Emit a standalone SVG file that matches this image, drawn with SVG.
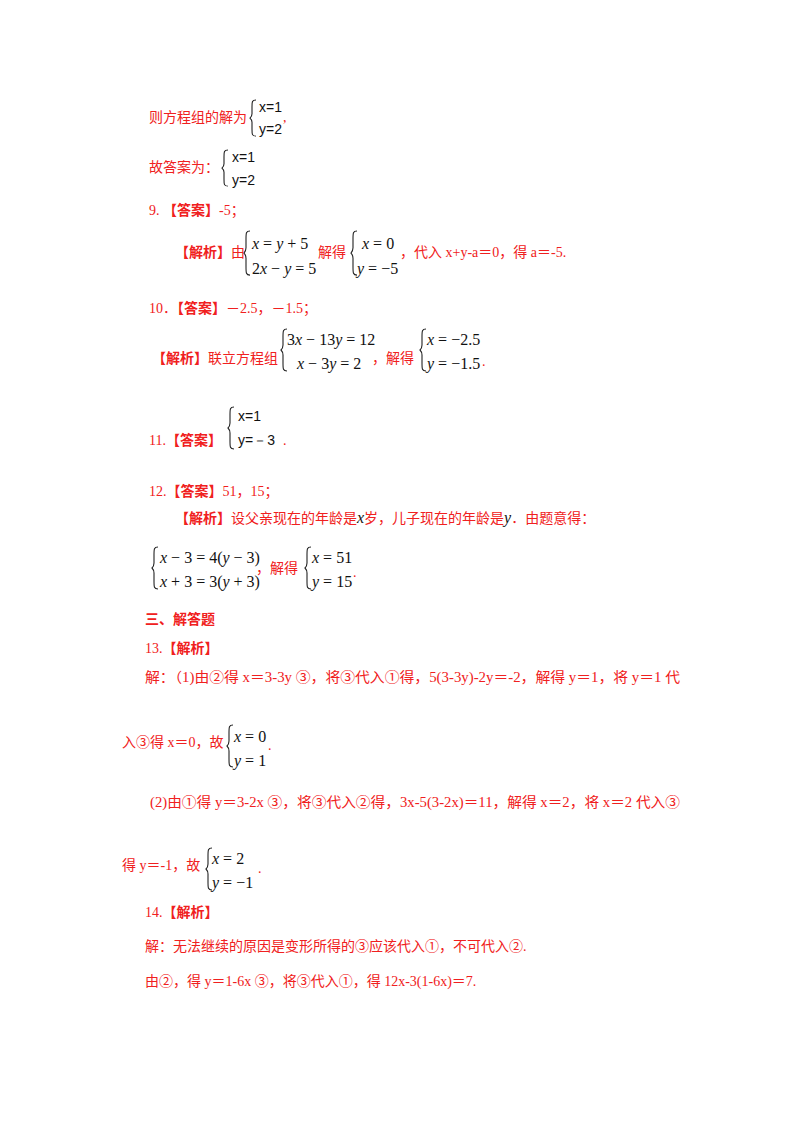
<svg xmlns="http://www.w3.org/2000/svg" width="800" height="1132" viewBox="0 0 800 1132">
<style>
.r{fill:#f02020;font-family:"Liberation Serif","Noto Sans CJK SC",serif;font-size:14px}
.b{font-weight:bold}
.m{fill:#111;font-family:"Liberation Serif",serif;font-size:16px}
.s{fill:#111;font-family:"Liberation Sans",sans-serif;font-size:14px}
.i{font-style:italic}
.br{fill:none;stroke:#222;stroke-width:1.1}
</style>
<rect width="800" height="1132" fill="#fff"/>
<defs><path id="brc" d="M6,0 C2,0 2,2 2,8 L2,16 C2,19 1,20 0,21 C1,22 2,23 2,26 L2,34 C2,40 2,42 6,42"/></defs>

<text class="r" x="149" y="122">则方程组的解为</text>
<use href="#brc" class="br" transform="translate(250,100) scale(1,0.86)"/>
<text class="s" x="259" y="112">x=1</text><text class="s" x="259" y="134">y=2</text><text class="r" x="283" y="122">,</text>

<text class="r" x="149" y="172">故答案为：</text>
<use href="#brc" class="br" transform="translate(222,150) scale(1,0.86)"/>
<text class="s" x="232" y="162">x=1</text><text class="s" x="232" y="185">y=2</text>

<text class="r" x="149" y="215">9.  <tspan class="b">【答案】</tspan>-5；</text>

<text class="r" x="175" y="257"><tspan class="b">【解析】</tspan>由</text>
<use href="#brc" class="br" transform="translate(244,231) scale(1,1.05)"/>
<text class="m" x="252" y="249"><tspan class="i">x</tspan> = <tspan class="i">y</tspan> + 5</text>
<text class="m" x="252" y="274">2<tspan class="i">x</tspan> − <tspan class="i">y</tspan> = 5</text>
<text class="r" x="318" y="257">解得</text>
<use href="#brc" class="br" transform="translate(351,231) scale(1,1.05)"/>
<text class="m" x="362" y="249"><tspan class="i">x</tspan> = 0</text>
<text class="m" x="357" y="274"><tspan class="i">y</tspan> = −5</text>
<text class="r" x="400" y="257">，代入 x+y-a＝0，得 a＝-5.</text>

<text class="r" x="149" y="313">10．<tspan class="b">【答案】</tspan>－2.5，－1.5；</text>
<text class="r" x="152" y="363"><tspan class="b">【解析】</tspan>联立方程组</text>
<use href="#brc" class="br" transform="translate(281,329) scale(1,1.0)"/>
<text class="m" x="287" y="345">3<tspan class="i">x</tspan> − 13<tspan class="i">y</tspan> = 12</text>
<text class="m" x="297" y="369"><tspan class="i">x</tspan> − 3<tspan class="i">y</tspan> = 2</text>
<text class="r" x="372" y="363">，解得</text>
<use href="#brc" class="br" transform="translate(420,329) scale(1,1.0)"/>
<text class="m" x="427" y="345"><tspan class="i">x</tspan> = −2.5</text>
<text class="m" x="427" y="369"><tspan class="i">y</tspan> = −1.5</text>
<text class="r" x="482" y="366">.</text>

<text class="r" x="149" y="445">11.<tspan class="b">【答案】</tspan></text>
<use href="#brc" class="br" transform="translate(228,407) scale(1,1.0)"/>
<text class="s" x="238" y="421">x=1</text><text class="s" x="238" y="445">y=－3</text><text class="r" x="283" y="445">.</text>

<text class="r" x="149" y="496">12.<tspan class="b">【答案】</tspan>51，15；</text>
<text class="r" x="175" y="523"><tspan class="b">【解析】</tspan>设父亲现在的年龄是<tspan class="m i" font-size="17">x</tspan>岁，儿子现在的年龄是<tspan class="m i" font-size="17">y</tspan>．由题意得：</text>
<use href="#brc" class="br" transform="translate(152,547) scale(1,1.0)"/>
<text class="m" x="160" y="563"><tspan class="i">x</tspan> − 3 = 4(<tspan class="i">y</tspan> − 3)</text>
<text class="m" x="160" y="587"><tspan class="i">x</tspan> + 3 = 3(<tspan class="i">y</tspan> + 3)</text>
<text class="r" x="256" y="573">，解得</text>
<use href="#brc" class="br" transform="translate(305,547) scale(1,1.0)"/>
<text class="m" x="312" y="563"><tspan class="i">x</tspan> = 51</text>
<text class="m" x="312" y="587"><tspan class="i">y</tspan> = 15</text>
<text class="r" x="353" y="577">.</text>

<text class="r b" x="145" y="624">三、解答题</text>
<text class="r" x="145" y="653">13.<tspan class="b">【解析】</tspan></text>
<text class="r" x="145" y="682" textLength="535" lengthAdjust="spacingAndGlyphs">解：（1)由②得 x＝3-3y ③，将③代入①得，5(3-3y)-2y＝-2，解得 y＝1，将 y＝1 代</text>
<text class="r" x="122" y="747">入③得 x＝0，故</text>
<use href="#brc" class="br" transform="translate(227,725) scale(1,1.0)"/>
<text class="m" x="234" y="742"><tspan class="i">x</tspan> = 0</text>
<text class="m" x="234" y="766"><tspan class="i">y</tspan> = 1</text>
<text class="r" x="268" y="750">.</text>

<text class="r" x="150" y="807" textLength="530" lengthAdjust="spacingAndGlyphs">(2)由①得 y＝3-2x ③，将③代入②得，3x-5(3-2x)＝11，解得 x＝2，将 x＝2 代入③</text>
<text class="r" x="122" y="870">得 y＝-1，故</text>
<use href="#brc" class="br" transform="translate(206,848) scale(1,1.0)"/>
<text class="m" x="212" y="864"><tspan class="i">x</tspan> = 2</text>
<text class="m" x="212" y="888"><tspan class="i">y</tspan> = −1</text>
<text class="r" x="258" y="873">.</text>

<text class="r" x="145" y="917">14.<tspan class="b">【解析】</tspan></text>
<text class="r" x="145" y="951">解：无法继续的原因是变形所得的③应该代入①，不可代入②.</text>
<text class="r" x="145" y="986">由②，得 y＝1-6x  ③，将③代入①，得 12x-3(1-6x)＝7.</text>
</svg>
